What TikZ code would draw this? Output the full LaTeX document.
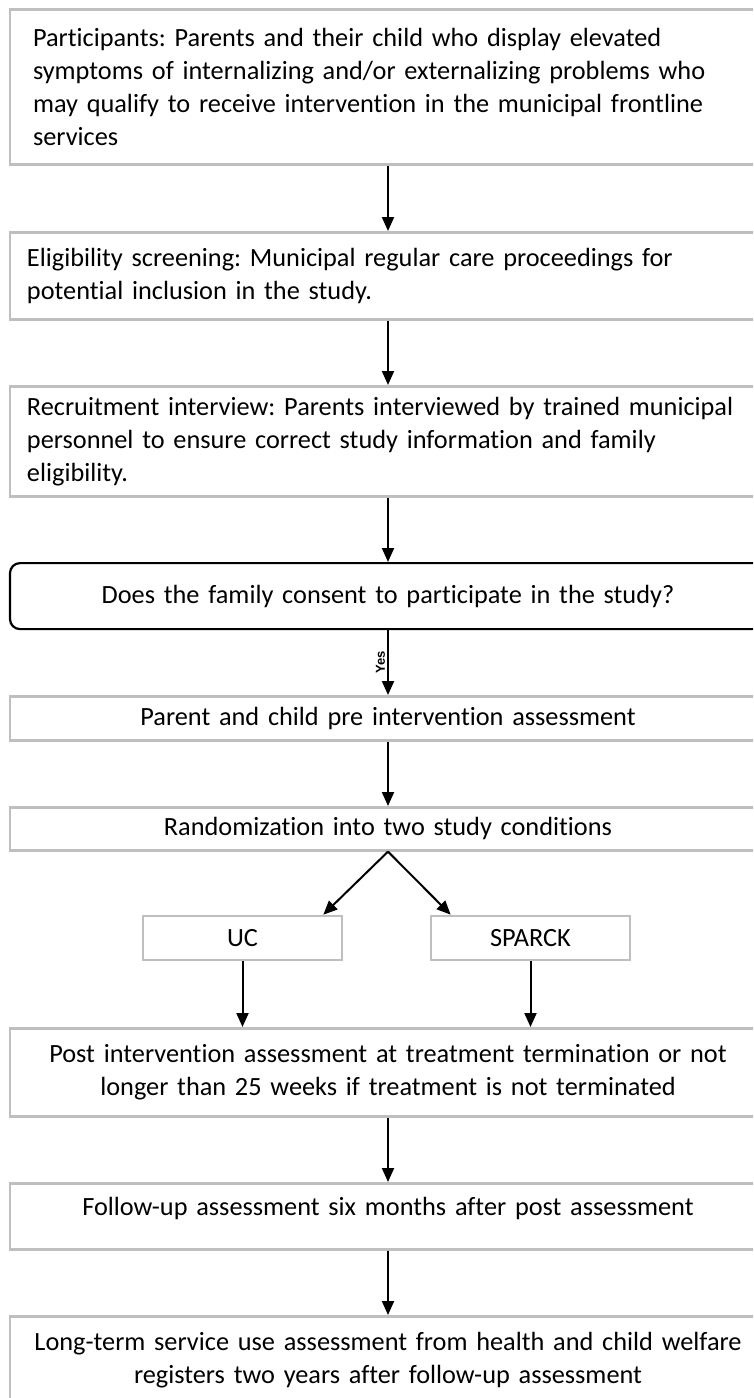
\documentclass[tikz,border=0pt]{standalone}
\usepackage{fontspec}
\setmainfont{Carlito}[Ligatures=NoCommon]
\newfontfamily\yesfont{Liberation Sans}
\usetikzlibrary{arrows.meta,calc}
\definecolor{boxgray}{HTML}{BFBFBF}
\begin{document}
\frenchspacing\hyphenpenalty=10000\exhyphenpenalty=10000
\begin{tikzpicture}[x=1pt,y=1pt,
  txt/.style={font=\fontsize{26.3}{33}\selectfont},
  gbox/.style={txt, draw=boxgray, line width=2.6pt, rectangle, inner ysep=0pt, minimum width=756pt},
  lboxa/.style={gbox, align=left, inner xsep=23pt, text width=710pt},
  lboxb/.style={gbox, align=left, inner xsep=17pt, text width=722pt},
  cbox/.style={gbox, align=center, inner xsep=10pt, text width=736pt},
  decbox/.style={txt, draw=black, line width=2.2pt, rounded corners=10pt, align=center, inner xsep=10pt, inner ysep=0pt, text width=736pt},
  sbox/.style={txt, draw=boxgray, line width=2.6pt, rectangle, inner sep=0pt, minimum width=199pt, minimum height=44pt},
  arr/.style={line width=2pt, -{Triangle[length=14pt,width=12pt]}},
  yeslabel/.style={font=\yesfont\bfseries\fontsize{13}{15}\selectfont, rotate=90, anchor=south, inner sep=2pt}
]
\useasboundingbox (0,0) rectangle (753,-1398);
\clip (0,0) rectangle (753,-1398);
\fill[white] (0,0) rectangle (753,-1398);

\node[lboxa, minimum height=155pt, anchor=north] (b1) at (388,-8)
  {Participants: Parents and their child who display elevated\\
   symptoms of internalizing and/or externalizing problems who\\
   may qualify to receive intervention in the municipal frontline\\
   services};
\node[lboxb, minimum height=87pt, anchor=north] (b2) at (388,-231)
  {Eligibility screening: Municipal regular care proceedings for\\
   potential inclusion in the study.};
\node[lboxb, minimum height=110pt, anchor=north] (b3) at (388,-385)
  {Recruitment interview: Parents interviewed by trained municipal\\
   personnel to ensure correct study information and family\\
   eligibility.};
\node[decbox, minimum height=66pt, anchor=north] (dec) at (388,-562)
  {Does the family consent to participate in the study?};
\node[cbox, minimum height=44pt, anchor=north] (pre) at (388,-695)
  {Parent and child pre intervention assessment};
\node[cbox, minimum height=43pt, anchor=north] (rand) at (388,-806)
  {Randomization into two study conditions};
\node[sbox] (uc) at (242.5,-938) {UC};
\node[sbox] (sp) at (530.5,-938) {SPARCK};
\node[cbox, minimum height=88pt, anchor=north] (post) at (388,-1027)
  {Post intervention assessment at treatment termination or not\\
   longer than 25 weeks if treatment is not terminated};
\node[cbox, minimum height=66pt, text depth=20pt, anchor=north] (fu) at (388,-1182)
  {Follow-up assessment six months after post assessment};
\node[cbox, minimum height=88pt, anchor=north] (lt) at (388,-1315)
  {Long-term service use assessment from health and child welfare\\
   registers two years after follow-up assessment};

\draw[arr] (b1) -- (b2);
\draw[arr] (b2) -- (b3);
\draw[arr] (b3) -- (dec);
\draw[arr] (dec) -- node[midway, yeslabel] {Yes} (pre);
\draw[arr] (pre) -- (rand);
\draw[arr] (rand.south) -- ([xshift=-20pt]uc.north east);
\draw[arr] (rand.south) -- ([xshift=21pt]sp.north west);
\draw[arr] (uc.south) -- (uc.south |- post.north);
\draw[arr] (sp.south) -- (sp.south |- post.north);
\draw[arr] (post) -- (fu);
\draw[arr] (fu) -- (lt);
\end{tikzpicture}
\end{document}
